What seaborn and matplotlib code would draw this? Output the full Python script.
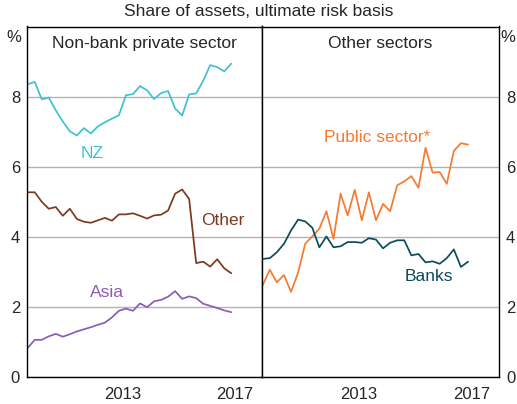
import numpy as np
import pandas as pd
import matplotlib
matplotlib.use("Agg")
import matplotlib.pyplot as plt
import seaborn as sns

# quarterly observations, 2010 Q1 - 2017 Q2
quarters = pd.period_range("2010Q1", periods=30, freq="Q")

nz = [8.35, 8.42, 7.92, 7.97, 7.61, 7.29, 7.01, 6.89, 7.10, 6.95,
      7.15, 7.27, 7.37, 7.47, 8.04, 8.07, 8.30, 8.18, 7.93, 8.10,
      8.16, 7.66, 7.46, 8.06, 8.09, 8.45, 8.90, 8.84, 8.72, 8.94]
other = [5.27, 5.27, 5.00, 4.80, 4.85, 4.60, 4.80, 4.51, 4.43, 4.40,
         4.47, 4.54, 4.46, 4.64, 4.64, 4.67, 4.60, 4.52, 4.61, 4.63,
         4.75, 5.23, 5.35, 5.08, 3.25, 3.29, 3.15, 3.36, 3.10, 2.96]
asia = [0.83, 1.06, 1.06, 1.16, 1.23, 1.15, 1.22, 1.30, 1.36, 1.42,
        1.49, 1.55, 1.70, 1.89, 1.95, 1.89, 2.10, 1.99, 2.16, 2.20,
        2.29, 2.45, 2.23, 2.30, 2.25, 2.09, 2.03, 1.97, 1.90, 1.85]
public = [2.62, 3.06, 2.70, 2.91, 2.43, 2.98, 3.80, 4.01, 4.23, 4.73,
          3.94, 5.23, 4.61, 5.34, 4.47, 5.27, 4.47, 4.94, 4.73, 5.47,
          5.58, 5.73, 5.40, 6.54, 5.83, 5.85, 5.51, 6.45, 6.67, 6.63]
banks = [3.37, 3.39, 3.56, 3.80, 4.18, 4.49, 4.44, 4.26, 3.70, 4.01,
         3.70, 3.73, 3.85, 3.85, 3.83, 3.96, 3.92, 3.67, 3.83, 3.90,
         3.90, 3.47, 3.51, 3.27, 3.30, 3.23, 3.39, 3.64, 3.14, 3.29]

y_ticks = [0, 2, 4, 6, 8]
year_ticks = [2011, 2012, 2013, 2014, 2015, 2016, 2017, 2018]
year_labels = ["2013", "2017"]

colors = {"NZ": "#3EC1D3", "Other": "#7B3A1F", "Asia": "#8C5CB5",
          "Public sector*": "#F47B30", "Banks": "#0D4B5C"}

x = quarters.year + (quarters.quarter - 0.5) / 4
left_df = pd.DataFrame({"x": x, "NZ": nz, "Other": other, "Asia": asia}).melt("x", var_name="series", value_name="pct")
right_df = pd.DataFrame({"x": x, "Public sector*": public, "Banks": banks}).melt("x", var_name="series", value_name="pct")

sns.set_style("white")
plt.rcParams["font.family"] = ["Liberation Sans", "DejaVu Sans"]

fig = plt.figure(figsize=(5.17, 4.04), dpi=100)
ax1 = fig.add_axes([27 / 517, 27 / 404, 235 / 517, 350.5 / 404])
ax2 = fig.add_axes([262 / 517, 27 / 404, 237 / 517, 350.5 / 404])

for ax, df in [(ax1, left_df), (ax2, right_df)]:
    sns.lineplot(data=df, x="x", y="pct", hue="series", palette=colors, lw=1.25, ax=ax, legend=False)
    ax.set_xlim(2010.1, 2018.47)
    ax.set_ylim(0, 10)
    ax.set_yticks(y_ticks)
    ax.yaxis.grid(True, color="#b3b3b3", lw=1.0)
    ax.set_axisbelow(True)
    ax.set_xticks(year_ticks)
    ax.set_xticklabels([])
    ax.set_xticks([int(t) + 0.5 for t in year_labels], minor=True)
    ax.set_xticklabels(year_labels, minor=True)
    ax.tick_params(axis="x", which="major", direction="in", length=5, width=1, color="black")
    ax.tick_params(axis="x", which="minor", length=0, labelsize=12, pad=7)
    ax.tick_params(axis="y", length=0, labelsize=12, pad=5)
    ax.set_xlabel("")
    ax.set_ylabel("")
    for s in ax.spines.values():
        s.set_color("black")
        s.set_linewidth(1.0)

ax2.yaxis.tick_right()

ax1.set_title("Non-bank private sector", fontsize=12.5, y=0.915)
ax2.set_title("Other sectors", fontsize=12.5, y=0.915)

ax1.text(2012.41, 6.38, "NZ", color=colors["NZ"], fontsize=12.5, ha="center", va="center")
ax1.text(2017.07, 4.47, "Other", color=colors["Other"], fontsize=12.5, ha="center", va="center")
ax1.text(2012.94, 2.42, "Asia", color=colors["Asia"], fontsize=12.5, ha="center", va="center")
ax2.text(2014.17, 6.84, "Public sector*", color=colors["Public sector*"], fontsize=12.5, ha="center", va="center")
ax2.text(2015.98, 2.88, "Banks", color=colors["Banks"], fontsize=12.5, ha="center", va="center")

fig.text(14 / 517, 1 - 38 / 404, "%", fontsize=12, ha="center", va="center")
fig.text(508 / 517, 1 - 38 / 404, "%", fontsize=12, ha="center", va="center")
fig.text(0.5, 1 - 12 / 404, "Share of assets, ultimate risk basis", fontsize=12.5, ha="center", va="center")

fig.savefig("out.png", dpi=100)
